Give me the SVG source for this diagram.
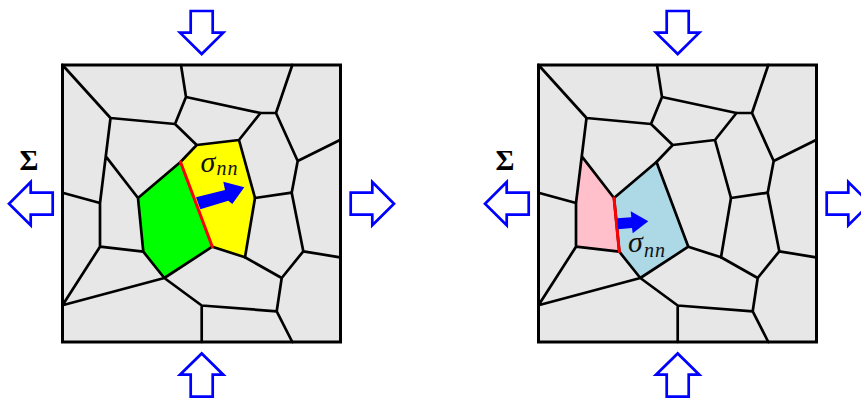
<svg xmlns="http://www.w3.org/2000/svg" width="861" height="398" viewBox="0 0 861 398">
<style>
.box{fill:#e7e7e7;stroke:none}
.frame{fill:none;stroke:#000;stroke-width:3;stroke-linejoin:miter;stroke-linecap:square}
.edge{fill:none;stroke:#000;stroke-width:2.7;stroke-linejoin:round;stroke-linecap:round}
.red{fill:none;stroke:#f00;stroke-width:3;stroke-linecap:round}
.load{fill:#fff;stroke:#00f;stroke-width:2.7;stroke-linejoin:miter}
.sn{font-family:"Liberation Serif",serif;font-style:italic;fill:#111}
.sig{font-family:"Liberation Serif",serif;font-weight:bold;font-size:29px;fill:#000}
</style>
<defs>
<g id="loads">
<polygon class="load" points="190.7,11 212.7,11 212.7,32.7 223.3,32.7 201.7,54 180,32.7 190.7,32.7"/>
<polygon class="load" points="190.7,396.7 212.7,396.7 212.7,374.7 223.3,374.7 201.7,353.5 180,374.7 190.7,374.7"/>
<polygon class="load" points="52.7,192.7 30.7,192.7 30.7,182 9,203.7 30.7,225.3 30.7,214.7 52.7,214.7"/>
<polygon class="load" points="350.7,192.7 372.3,192.7 372.3,182 394,203.7 372.3,225.3 372.3,214.7 350.7,214.7"/>
</g>
<path id="common" class="edge" d="M62.5,65 110.5,118 175,124 186,97 181,65 M186,97 260.5,113 276,113 292.3,65 M276,113 297.7,161 340,140 M260.5,113 239,140 M175,124 196.7,145 239,140 M196.7,145 180.5,162 138,198 106,156.7 M110.5,118 100,203 62.5,192.7 M100,203 100,246.7 143.3,251.7 138,198 M143.3,251.7 164.3,278 212.3,246.7 245,257.3 M239,140 255,198 M297.7,161 291.7,192.7 303.3,251.3 340,257.3 M303.3,251.3 281.7,278 245,257.3 M281.7,278 276.7,311.3 292.3,342 M276.7,311.3 201.7,305.5 164.3,278 62.5,305.3 100,246.7 M201.7,305.5 201.7,342"/>
</defs>
<g id="panel-left">
<rect class="box" x="62.5" y="65" width="278" height="277"/>
<polygon points="138,198 180.5,162 212.3,246.7 164.3,278 143.3,251.7" fill="#0f0"/>
<polygon points="196.7,145 239,140 255,198 245,257.3 212.3,246.7 180.5,162" fill="#ff0"/>
<use href="#common"/>
<path class="edge" d="M255,198 291.7,192.7 M255,198 245,257.3"/>
<path class="red" d="M180.5,162 212.3,246.7"/>
<polygon points="196,197.3 225,190 223.3,181.7 244.3,187.3 232.3,204 228.3,200.7 200.3,209.3" fill="#00f"/>
<text class="sn" x="200.5" y="171.5" font-size="30">σ</text>
<text class="sn" x="216.5" y="175" font-size="20" letter-spacing="1">nn</text>
<rect class="frame" x="62.5" y="65" width="278" height="277"/>
</g>
<g id="panel-right" transform="translate(476 0)">
<rect class="box" x="62.5" y="65" width="278" height="277"/>
<polygon points="106,156.7 138,198 143.3,251.7 100,246.7 100,203" fill="#ffc0cb"/>
<polygon points="138,198 180.5,162 212.3,246.7 164.3,278 143.3,251.7" fill="#add8e6"/>
<use href="#common"/>
<path class="edge" d="M180.5,162 212.3,246.7 M255,198 291.7,192.7 M255,198 245,257.3"/>
<path class="red" d="M138,198 143.3,251.7"/>
<polygon points="141.3,218.3 155.3,217.3 154.7,211.3 172.3,221.3 156.7,233.3 156,228 142,229.3" fill="#00f"/>
<text class="sn" x="152" y="252" font-size="30">σ</text>
<text class="sn" x="168" y="256.7" font-size="20" letter-spacing="1">nn</text>
<rect class="frame" x="62.5" y="65" width="278" height="277"/>
</g>
<g id="loads-left"><use href="#loads"/></g>
<g id="loads-right" transform="translate(476 0)"><use href="#loads"/></g>
<text class="sig" x="19.5" y="170">Σ</text>
<text class="sig" x="495.5" y="170">Σ</text>
</svg>
